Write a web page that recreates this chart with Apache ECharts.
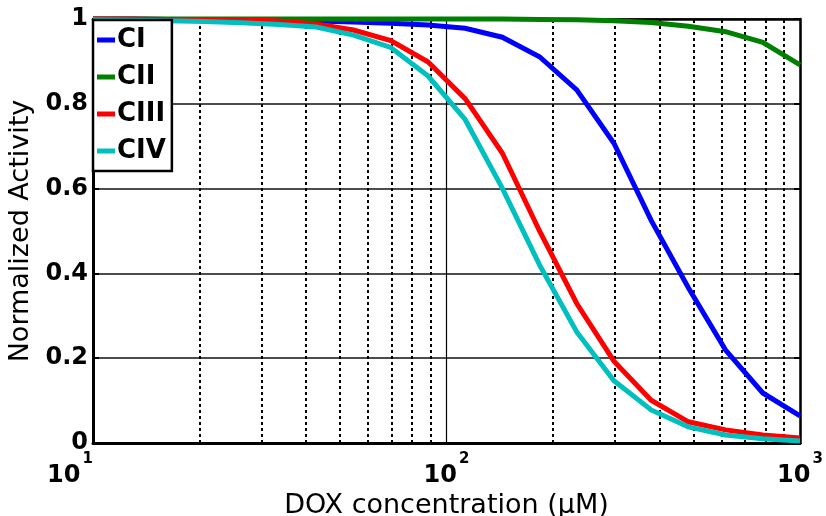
<!DOCTYPE html>
<html>
<head>
<meta charset="utf-8">
<script src="https://cdn.jsdelivr.net/npm/echarts@6/dist/echarts.min.js"></script>
<style>
  html, body { margin: 0; padding: 0; background: #fff; }
  #chart { width: 826px; height: 516px; }
</style>
</head>
<body>
<div id="chart"></div>
<script>
// DOX concentration (µM), log-spaced sample points
const concentration = [10, 12.74, 16.24, 20.69, 26.37, 33.6, 42.81, 54.56, 69.52, 88.59,
  112.9, 143.8, 183.3, 233.6, 297.6, 379.3, 483.3, 615.8, 784.8, 1000];

// Normalized activity of each respiratory complex
const CI   = [1.000, 1.000, 0.999, 0.999, 0.998, 0.997, 0.995, 0.993, 0.990, 0.986,
  0.978, 0.957, 0.911, 0.833, 0.707, 0.525, 0.366, 0.219, 0.118, 0.064];
const CII  = [1.000, 1.000, 1.000, 1.000, 1.000, 1.000, 1.000, 1.000, 1.000, 1.000,
  1.000, 1.000, 0.999, 0.998, 0.996, 0.992, 0.983, 0.970, 0.945, 0.892];
const CIII = [1.000, 1.000, 0.999, 0.999, 0.998, 0.995, 0.988, 0.974, 0.949, 0.899,
  0.812, 0.684, 0.500, 0.329, 0.193, 0.101, 0.050, 0.031, 0.019, 0.012];
const CIV  = [0.998, 0.997, 0.996, 0.994, 0.991, 0.987, 0.981, 0.962, 0.933, 0.866,
  0.763, 0.601, 0.420, 0.262, 0.147, 0.078, 0.038, 0.019, 0.010, 0.005];

const seriesNames = ['CI', 'CII', 'CIII', 'CIV'];
const seriesValues = [CI, CII, CIII, CIV];
const seriesColors = ['#0000ff', '#008000', '#ff0000', '#00bfbf'];

// Minor (dotted) vertical grid positions within each decade
const minorGrid = [20, 30, 40, 50, 60, 70, 80, 90, 200, 300, 400, 500, 600, 700, 800, 900];

const yTicks = [0, 0.2, 0.4, 0.6, 0.8, 1];

const FONT = 'DejaVu Sans';

const chart = echarts.init(document.getElementById('chart'), null, { renderer: 'canvas' });

const lineSeries = seriesNames.map((name, k) => ({
  name: name,
  type: 'line',
  data: concentration.map((c, i) => [c, seriesValues[k][i]]),
  showSymbol: false,
  symbol: 'none',
  clip: false,
  z: 10 + k,
  lineStyle: { color: seriesColors[k], width: 5, cap: 'butt', join: 'miter' },
  itemStyle: { color: seriesColors[k] }
}));

const option = {
  animation: false,
  backgroundColor: '#fff',
  textStyle: { fontFamily: FONT },
  grid: { left: 93, right: 26, top: 19, bottom: 73, containLabel: false, outerBoundsMode: 'none' },
  legend: {
    data: seriesNames,
    orient: 'vertical',
    left: 93,
    top: 20,
    z: 50,
    backgroundColor: '#fff',
    borderColor: '#000',
    borderWidth: 2.5,
    borderRadius: 0,
    padding: [5, 6, 5, 4],
    itemGap: 7,
    itemWidth: 18,
    itemHeight: 5,
    icon: 'rect',
    selectedMode: false,
    textStyle: { fontFamily: FONT, fontWeight: 'bold', fontSize: 26, color: '#000', lineHeight: 30, padding: [0, 0, 0, -3] }
  },
  xAxis: [{
    type: 'log',
    logBase: 10,
    min: 10,
    max: 1000,
    position: 'bottom',
    name: 'DOX concentration (\u03bcM)',
    nameLocation: 'middle',
    nameGap: 44,
    nameTextStyle: { fontFamily: FONT, fontSize: 27, color: '#000' },
    axisLine: { show: true, onZero: false, lineStyle: { color: '#000', width: 3 } },
    axisTick: { show: false },
    splitLine: { show: true, lineStyle: { color: '#000', width: 1.2 } },
    axisLabel: {
      margin: 10,
      alignMinLabel: 'right',
      // exponent on the first line, base on the second
      formatter: v => '{s|' + Math.round(Math.log10(v)) + '}\n{b|10}',
      rich: {
        s: { fontFamily: FONT, fontWeight: 'bold', fontSize: 15, color: '#000', lineHeight: 12, padding: [0, 0, 0, 35.5] },
        b: { fontFamily: FONT, fontWeight: 'bold', fontSize: 24, color: '#000', lineHeight: 22, padding: [0, 12.5, 0, 0] }
      }
    }
  }, {
    type: 'log',
    logBase: 10,
    min: 10,
    max: 1000,
    position: 'top',
    axisLine: { show: true, onZero: false, lineStyle: { color: '#000', width: 2.5 } },
    axisTick: { show: false },
    axisLabel: { show: false },
    splitLine: { show: false }
  }],
  yAxis: [{
    type: 'value',
    min: 0,
    max: 1,
    interval: 0.2,
    position: 'left',
    name: 'Normalized Activity',
    nameLocation: 'middle',
    nameGap: 47,
    nameTextStyle: { fontFamily: FONT, fontSize: 27, color: '#000' },
    axisLine: { show: true, onZero: false, lineStyle: { color: '#000', width: 3 } },
    axisTick: { show: true, inside: true, length: 6, lineStyle: { color: '#000', width: 2 } },
    splitLine: { show: true, lineStyle: { color: '#111', width: 1.5 } },
    axisLabel: {
      margin: 5,
      fontFamily: FONT,
      fontWeight: 'bold',
      fontSize: 24,
      color: '#000',
      formatter: v => String(yTicks.find(t => Math.abs(t - v) < 1e-9) ?? v)
    }
  }, {
    type: 'value',
    min: 0,
    max: 1,
    interval: 0.2,
    position: 'right',
    axisLine: { show: true, onZero: false, lineStyle: { color: '#000', width: 2.5 } },
    axisTick: { show: true, inside: true, length: 6, lineStyle: { color: '#000', width: 2 } },
    axisLabel: { show: false },
    splitLine: { show: false }
  }],
  series: [{
    name: 'minor-grid',
    type: 'line',
    data: [],
    silent: true,
    z: 1,
    markLine: {
      silent: true,
      symbol: 'none',
      animation: false,
      label: { show: false },
      lineStyle: { color: '#000', width: 2, type: [3, 3] },
      data: minorGrid.map(v => ({ xAxis: v }))
    }
  }].concat(lineSeries)
};

chart.setOption(option);
</script>
</body>
</html>
